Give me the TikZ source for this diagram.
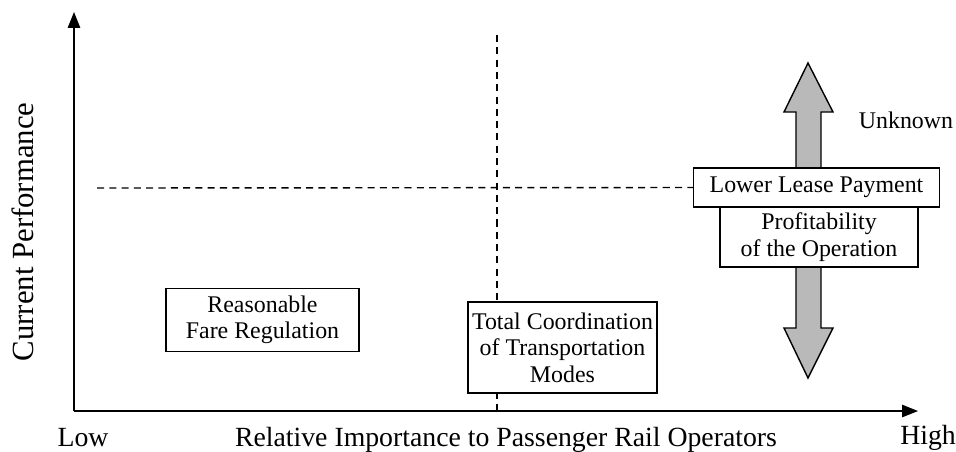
\documentclass[tikz,border=0pt]{standalone}
\usepackage{fontspec}
\setmainfont{Liberation Serif}
\usetikzlibrary{arrows.meta}

\begin{document}
\begin{tikzpicture}[x=0.02cm,y=-0.02cm,>={Triangle[length=9pt,width=7pt]}]
		\tikzstyle{box} = [rectangle,draw,thick,fill=white,inner sep=1pt,align=center,font=\fontsize{13.6}{15}\selectfont]
		\tikzstyle{axislabel} = [font=\fontsize{15.8}{18}\selectfont]
		\useasboundingbox (0,0) rectangle (956,451);
		
		% axes
		\coordinate (o) at (74,411);
		\coordinate (ytop) at (74,12);
		\coordinate (xend) at (918,411);
		\draw[thick,->] (o) -- (ytop);
		\draw[thick,->] (o) -- (xend);
		
		\node[axislabel] (low) at (83,438) {Low};
		\node[axislabel] (high) at (928,438) {High};
		\node[axislabel] (xlab) at (506,440) {Relative Importance to Passenger Rail Operators};
		\node[axislabel,font=\fontsize{17.5}{19}\selectfont,rotate=90] (ylab) at (23,232) {Current Performance};
		
		% double arrow
		\filldraw[fill=gray!55,thick] (808,63) -- (833,112) -- (821,112) -- (821,328) -- (833,328) -- (808,378)
			-- (784,328) -- (796,328) -- (796,112) -- (784,112) -- cycle;
		
		\node[box,minimum width=140pt,minimum height=22pt] (lease) at (816.5,187.5) {Lower Lease Payment};
		\node[box,minimum width=112.5pt,minimum height=34pt] (profit) at (819,237) {Profitability\\of the Operation};
		\node[font=\fontsize{13.6}{15}\selectfont] (unknown) at (906,120) {Unknown};
		
		% dashed quadrant lines
		\coordinate (hstart) at (97,188);
		\coordinate (vtop) at (497,35);
		\coordinate (vbot) at (497,410);
		\draw[thick,dash pattern=on 4pt off 3pt] (hstart) -- (lease.west);
		\draw[thick,dash pattern=on 4pt off 3pt] (vtop) -- (vbot);
		
		\node[box,minimum width=110pt,minimum height=36pt] (fare) at (262.5,320) {Reasonable\\Fare Regulation};
		\node[box,minimum width=107.5pt,minimum height=52pt] (total) at (562.5,347.5) {Total Coordination\\of Transportation\\Modes};
	\end{tikzpicture}
\end{document}
